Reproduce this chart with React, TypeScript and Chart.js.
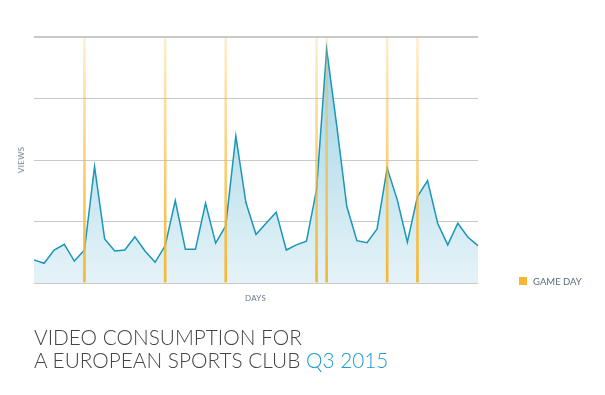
import React, { useEffect, useRef } from "react";
import { Chart, registerables } from "chart.js";

Chart.register(...registerables);

const days: string[] = Array.from({ length: 45 }, (_, i) => `Day ${i + 1}`);
const views: number[] = [
  9.4, 8.0, 13.4, 15.7, 8.9, 13.4, 47.3, 17.9, 13.0, 13.4,
  18.8, 13.0, 8.4, 15.2, 33.5, 13.7, 13.7, 32.4, 16.2, 23.2,
  59.8, 32.7, 19.7, 24.3, 28.8, 13.4, 15.5, 17.0, 37.9, 95.1,
  64.0, 31.1, 17.2, 16.4, 22.0, 46.7, 33.8, 16.6, 35.1, 41.6,
  24.3, 15.5, 24.3, 18.6, 15.2,
];
const gameDayIndices: number[] = [5, 13, 19, 28, 29, 35, 38];
const yTicks: number[] = [0, 25, 50, 75, 100];

const gameDays: (number | null)[] = days.map((_, i) =>
  gameDayIndices.includes(i) ? yTicks[yTicks.length - 1] : null
);

export default function App() {
  const ref = useRef<HTMLCanvasElement | null>(null);

  useEffect(() => {
    if (!ref.current) return;
    const chart = new Chart(ref.current, {
      type: "line",
      data: {
        labels: days,
        datasets: [
          {
            type: "bar",
            label: "GAME DAY",
            data: gameDays,
            barThickness: 2,
            order: 0,
            backgroundColor: (c: any) => {
              const a = c.chart.chartArea;
              if (!a) return "#f7b733";
              const g = c.chart.ctx.createLinearGradient(0, a.top, 0, a.bottom);
              g.addColorStop(0, "rgba(247,183,51,0.22)");
              g.addColorStop(0.5, "rgba(247,183,51,0.65)");
              g.addColorStop(1, "rgba(247,183,51,1)");
              return g;
            },
          } as any,
          {
            type: "line",
            label: "VIEWS",
            data: views,
            order: 1,
            borderColor: "#1a96b9",
            borderWidth: 1.5,
            pointRadius: 0,
            tension: 0,
            fill: "origin",
            backgroundColor: (c: any) => {
              const a = c.chart.chartArea;
              if (!a) return "#cde9f2";
              const g = c.chart.ctx.createLinearGradient(0, a.top, 0, a.bottom);
              g.addColorStop(0, "#9dd2e3");
              g.addColorStop(1, "#e5f3f8");
              return g;
            },
          },
        ],
      },
      options: {
        responsive: false,
        animation: false,
        layout: { padding: { left: 34, right: 127, top: 37, bottom: 112 } },
        plugins: { legend: { display: false }, tooltip: { enabled: false } },
        scales: {
          x: {
            type: "category",
            offset: false,
            grid: { display: false, offset: false },
            ticks: { display: false },
            border: { display: false },
            afterFit: (s: any) => {
              s.height = 0;
            },
          },
          y: {
            min: yTicks[0],
            max: yTicks[yTicks.length - 1],
            afterBuildTicks: (s: any) => {
              s.ticks = yTicks.map((v) => ({ value: v }));
            },
            ticks: { display: false },
            border: { display: false },
            grid: {
              drawTicks: false,
              color: "#c9c9c9",
              lineWidth: (c: any) => (c.index === 0 || c.index === yTicks.length - 1 ? 2 : 1),
            },
            afterFit: (s: any) => {
              s.width = 0;
            },
          },
        },
      },
    });
    return () => chart.destroy();
  }, []);

  const font = "Lato, 'Open Sans', sans-serif";
  return (
    <div style={{ position: "fixed", left: 0, top: 0, width: 605, height: 395, background: "#fff", fontFamily: font }}>
      <canvas ref={ref} width={605} height={395} style={{ position: "absolute", left: 0, top: 0 }} />
      <div
        style={{
          position: "absolute",
          left: 20.5,
          top: 160,
          transform: "translate(-50%, -50%) rotate(-90deg)",
          fontSize: 8,
          color: "#66798a",
          whiteSpace: "nowrap",
          letterSpacing: 0.3,
        }}
      >
        VIEWS
      </div>
      <div
        style={{
          position: "absolute",
          left: 255.5,
          top: 297.5,
          transform: "translate(-50%, -50%)",
          fontSize: 8,
          color: "#66798a",
          whiteSpace: "nowrap",
          letterSpacing: 0.3,
        }}
      >
        DAYS
      </div>
      <div style={{ position: "absolute", left: 519, top: 277, width: 8, height: 8, background: "#f7b733" }} />
      <div
        style={{
          position: "absolute",
          left: 533,
          top: 280.5,
          transform: "translateY(-50%)",
          fontSize: 9.5,
          color: "#5b6b7b",
          whiteSpace: "nowrap",
        }}
      >
        GAME DAY
      </div>
      <div
        style={{
          position: "absolute",
          left: 34,
          top: 325,
          fontSize: 20.8,
          lineHeight: "23px",
          color: "#444",
          fontWeight: 300,
          whiteSpace: "nowrap",
        }}
      >
        VIDEO CONSUMPTION FOR
        <br />A EUROPEAN SPORTS CLUB <span style={{ color: "#1a9ccc" }}>Q3 2015</span>
      </div>
    </div>
  );
}
